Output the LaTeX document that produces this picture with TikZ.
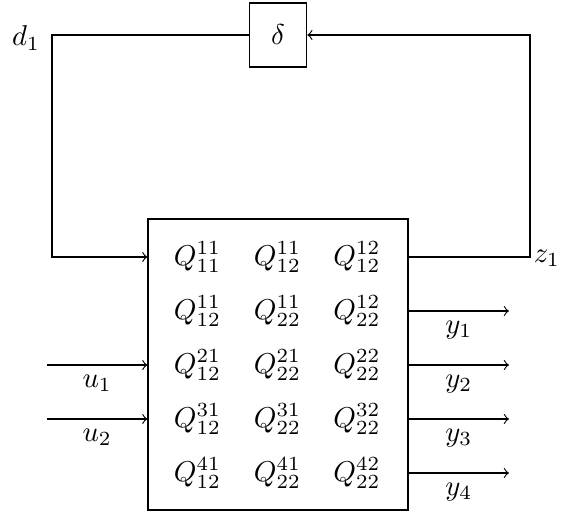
\documentclass[tikz,border=0pt]{standalone}
\begin{document}
\begin{tikzpicture}[x=0.3484pt,y=-0.3484pt,
  box/.style={draw, rectangle, inner sep=0pt},
  lbl/.style={inner sep=0pt},
  qent/.style={inner sep=0pt}]
\useasboundingbox (0,0) rectangle (563,513);
% blocks
\node[box, minimum width=90.6pt, minimum height=101.4pt] (P) at (278,364.5) {};
\node[box, minimum width=20pt, minimum height=22.3pt] (D) at (278,35) {$\delta$};
% matrix entries
\node[qent] (q11) at (197.5,257) {$Q^{11}_{11}$};
\node[qent] (q12) at (277.5,257) {$Q^{11}_{12}$};
\node[qent] (q13) at (357,257) {$Q^{12}_{12}$};
\node[qent] (q21) at (197.5,311) {$Q^{11}_{12}$};
\node[qent] (q22) at (277.5,311) {$Q^{11}_{22}$};
\node[qent] (q23) at (357,311) {$Q^{12}_{22}$};
\node[qent] (q31) at (197.5,365) {$Q^{21}_{12}$};
\node[qent] (q32) at (277.5,365) {$Q^{21}_{22}$};
\node[qent] (q33) at (357,365) {$Q^{22}_{22}$};
\node[qent] (q41) at (197.5,419) {$Q^{31}_{12}$};
\node[qent] (q42) at (277.5,419) {$Q^{31}_{22}$};
\node[qent] (q43) at (357,419) {$Q^{32}_{22}$};
\node[qent] (q51) at (197.5,473) {$Q^{41}_{12}$};
\node[qent] (q52) at (277.5,473) {$Q^{41}_{22}$};
\node[qent] (q53) at (357,473) {$Q^{42}_{22}$};
% feedback loop
\coordinate (dl) at (52,35);
\coordinate (zc) at (530,257);
\coordinate (zt) at (530,35);
\draw[->] (D.west) -- (dl) |- (P.west |- q11);
\draw[->] (P.east |- q13) -- (zc) -- (zt) -- (D.east);
\node[lbl] (dlab) at (26,38) {$d_1$};
\node[lbl] (zlab) at (547,258) {$z_1$};
% inputs
\coordinate (u1s) at (47,365);
\coordinate (u2s) at (47,419);
\draw[->] (u1s) -- (P.west |- q31) node[midway, below] {$u_1$};
\draw[->] (u2s) -- (P.west |- q41) node[midway, below] {$u_2$};
% outputs
\coordinate (y1e) at (509,311);
\coordinate (y2e) at (509,365);
\coordinate (y3e) at (509,419);
\coordinate (y4e) at (509,473);
\draw[->] (P.east |- q23) -- (y1e) node[midway, below] {$y_1$};
\draw[->] (P.east |- q33) -- (y2e) node[midway, below] {$y_2$};
\draw[->] (P.east |- q43) -- (y3e) node[midway, below] {$y_3$};
\draw[->] (P.east |- q53) -- (y4e) node[midway, below] {$y_4$};
\end{tikzpicture}
\end{document}
